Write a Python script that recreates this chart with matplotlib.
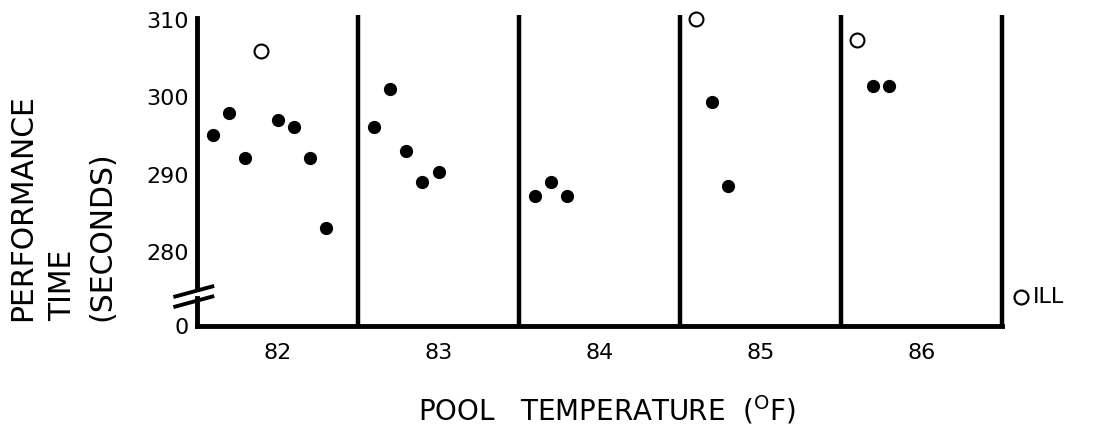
import matplotlib
matplotlib.use("Agg")
import matplotlib.pyplot as plt
import matplotlib.transforms as mtransforms

# performance times by pool temperature (filled = normal, open = unusual)
temp_filled = [81.6, 81.7, 81.8, 82.0, 82.1, 82.2, 82.3,
               82.6, 82.7, 82.8, 82.9, 83.0,
               83.6, 83.7, 83.8,
               84.7, 84.8,
               85.7, 85.8]
time_filled = [295.1, 297.9, 292.1, 297.1, 296.1, 292.1, 283.1,
               296.1, 301.1, 293.1, 289.1, 290.3,
               287.3, 289.1, 287.3,
               299.4, 288.5,
               301.5, 301.5]
temp_open = [81.9, 84.6, 85.6]
time_open = [305.9, 310.1, 307.4]

temps = [82, 83, 84, 85, 86]
bounds = [82.5, 83.5, 84.5, 85.5, 86.5]
ytick_vals = [280, 290, 300, 310]

ZERO = 270.5  # where "0" sits on the broken axis
TOP = 310.6

plt.rcParams['font.family'] = ['DejaVu Sans']

fig = plt.figure(figsize=(10.95, 4.45), dpi=100)
ax = fig.add_axes([197 / 1095, 119 / 445, 805 / 1095, 311 / 445])
ax.set_xlim(81.5, 86.5)
ax.set_ylim(ZERO, TOP)

for s in ax.spines.values():
    s.set_visible(False)

# axes and separators
ax.plot([81.5, 86.5], [ZERO, ZERO], color='black', lw=3.5, solid_capstyle='projecting', clip_on=False)
ax.plot([81.5, 81.5], [ZERO, 274.1], color='black', lw=3.5, clip_on=False)
ax.plot([81.5, 81.5], [275.3, 310.2], color='black', lw=3.5, clip_on=False)
ax.vlines(bounds, ZERO, TOP, color='black', lw=3.2, clip_on=False)

# axis break marks
trans = mtransforms.blended_transform_factory(ax.transAxes, ax.transData)
for y0 in [273.0, 274.3]:
    ax.plot([-0.027, 0.019], [y0, y0 + 1.3], color='black', lw=2.8,
            transform=trans, clip_on=False)

ax.plot(temp_filled, time_filled, 'o', color='black', ms=8.5, clip_on=False)
ax.plot(temp_open, time_open, 'o', mfc='white', mec='black', ms=10, mew=1.5, clip_on=False)

# ILL note
ax.plot([86.616], [274.2], 'o', mfc='white', mec='black', ms=10, mew=1.6, clip_on=False)
ax.text(86.69, 274.2, 'ILL', fontsize=16, va='center', ha='left')

ax.set_xticks(temps)
ax.set_xticklabels([str(t) for t in temps], fontsize=16)
ax.set_yticks([ZERO] + ytick_vals)
ax.set_yticklabels(['0'] + [str(v) for v in ytick_vals], fontsize=16)
ax.tick_params(axis='x', length=0, pad=12)
ax.tick_params(axis='y', length=0, pad=6)

for txt, xp in [('PERFORMANCE', 23), ('TIME', 63), ('(SECONDS)', 102)]:
    fig.text(xp / 1095, 1 - 321 / 445, txt, rotation=90, rotation_mode='anchor',
             ha='left', va='center', fontsize=21.5)

fig.text(607 / 1095, 1 - 410 / 445, 'POOL   TEMPERATURE  ($^{\\mathrm{O}}$F)',
         ha='center', va='center', fontsize=20)

fig.savefig('out.png', dpi=100)
